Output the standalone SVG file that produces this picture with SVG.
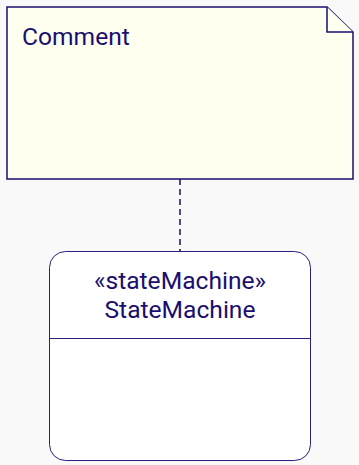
<svg xmlns="http://www.w3.org/2000/svg" width="359" height="465" viewBox="0 0 359 465">
  <style>
    .lbl { font-family: Roboto, "Liberation Sans", sans-serif; font-size: 24.6px; fill: #1a0f6e; }
    .note { fill: #fffff0; stroke: #1a0f6e; stroke-width: 1.5; }
    .state { fill: #ffffff; stroke: #2a1f7a; stroke-width: 1; }
    .link { stroke: #1a0f6e; stroke-width: 1.5; stroke-dasharray: 6 4; fill: none; }
  </style>
  <rect width="359" height="465" fill="#f9f9f9"/>
  <g id="connectors">
    <line class="link" x1="180" y1="179" x2="180" y2="251"/>
  </g>
  <g id="comment">
    <path class="note" d="M7 7 H327 L353 32 V179 H7 Z"/>
    <path class="note" d="M327 7 V32 H353"/>
    <text class="lbl" x="22" y="45">Comment</text>
  </g>
  <g id="stateMachine">
    <rect class="state" x="49.5" y="251.5" width="261" height="209" rx="16"/>
    <line class="state" x1="49.5" y1="338.5" x2="310.5" y2="338.5"/>
    <text class="lbl" x="180" y="289" text-anchor="middle">«stateMachine»</text>
    <text class="lbl" x="180" y="318" text-anchor="middle">StateMachine</text>
  </g>
</svg>
